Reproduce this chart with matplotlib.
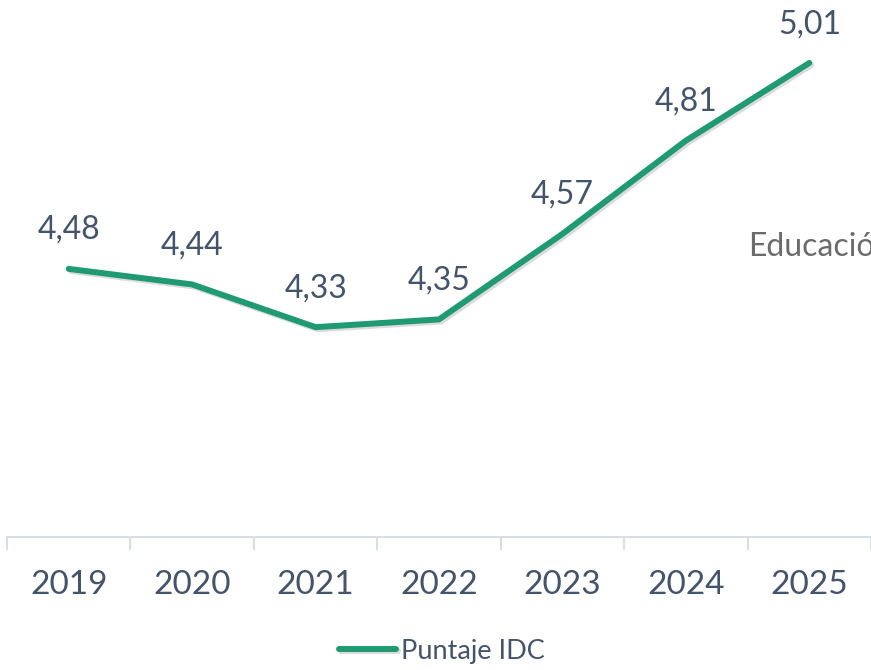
import matplotlib.pyplot as plt
import matplotlib.patheffects as pe

years = ['2019', '2020', '2021', '2022', '2023', '2024', '2025']
puntaje_idc = [4.48, 4.44, 4.33, 4.35, 4.57, 4.81, 5.01]

line_color = '#1f9a73'
text_color = '#44546a'
plt.rcParams['font.family'] = ['Lato', 'DejaVu Sans']

fig = plt.figure(figsize=(8.71, 6.70), dpi=100)
ax = fig.add_axes([7 / 871, 133 / 670, 864 / 871, 537 / 670])

x = range(len(years))
line, = ax.plot(x, puntaje_idc, color=line_color, linewidth=4.3,
                solid_capstyle='round', solid_joinstyle='round',
                label='Puntaje IDC',
                path_effects=[pe.SimpleLineShadow(offset=(1.5, -1.5), shadow_color='#999999', alpha=0.35),
                              pe.Normal()])

for xi, v in zip(x, puntaje_idc):
    ax.annotate(f'{v:.2f}'.replace('.', ','), (xi, v), xytext=(0, 28),
                textcoords='offset points', ha='center', va='center',
                fontsize=23, color=text_color)

ax.set_xlim(-0.5, len(years) - 0.5)
ax.set_ylim(3.79, 5.172)

for side in ['left', 'right', 'top']:
    ax.spines[side].set_visible(False)
ax.spines['bottom'].set_color('#d9dde4')
ax.spines['bottom'].set_linewidth(1.5)
ax.set_yticks([])

ax.set_xticks(list(x))
ax.set_xticklabels(years, fontsize=24, color=text_color)
ax.tick_params(axis='x', which='major', length=0, pad=24)
ax.set_xticks([i - 0.5 for i in range(len(years) + 1)], minor=True)
ax.tick_params(axis='x', which='minor', length=9, width=1.5, color='#d9dde4')

# text partly outside the chart area, as in the source
fig.text(748 / 871, 1 - 247 / 670, 'Educación', fontsize=23, color='#6b6b6b',
         ha='left', va='center')

fig.legend(handles=[line], loc='center', bbox_to_anchor=(442 / 871, 1 - 651 / 670),
           frameon=False, fontsize=19.5, labelcolor=text_color,
           handlelength=2.1, handletextpad=0.2)

fig.savefig('out.png', dpi=100)
